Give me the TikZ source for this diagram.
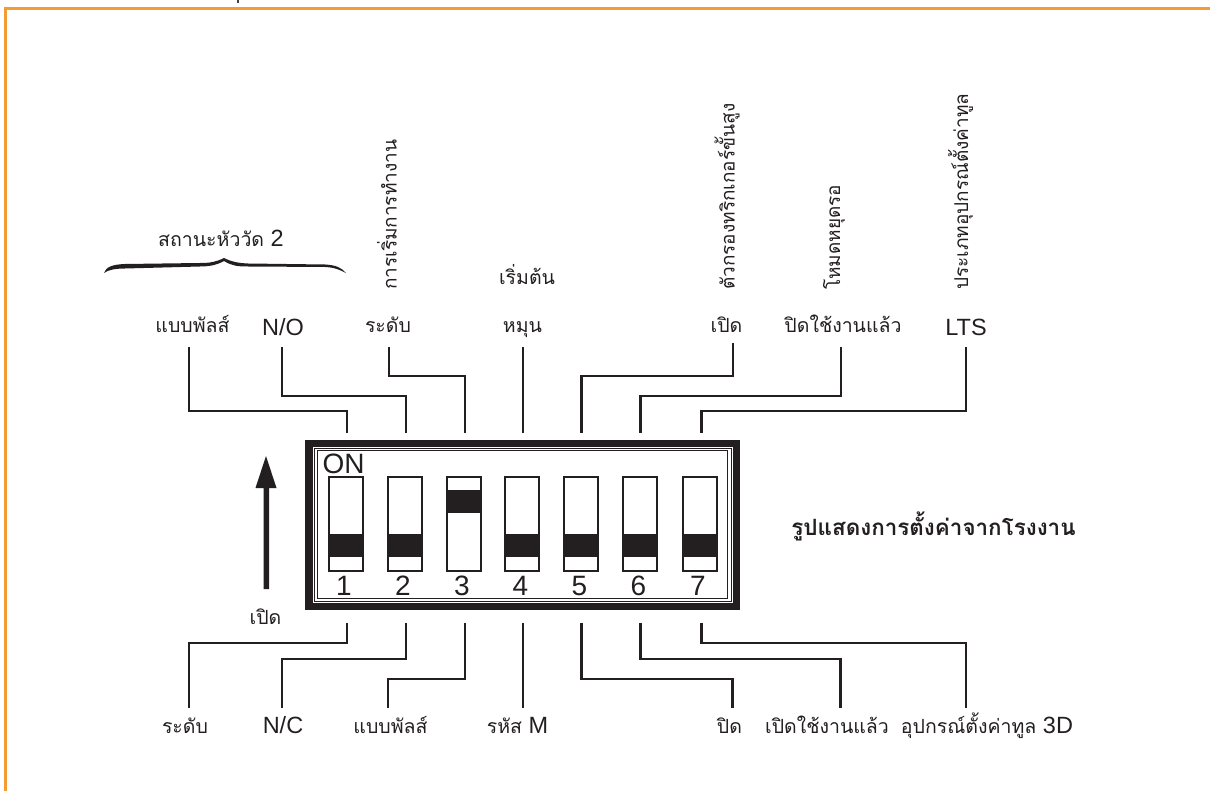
\documentclass[tikz,border=0pt]{standalone}
\usepackage{fontspec}
\setmainfont{Liberation Sans}
\newfontfamily\thaifont[Script=Thai]{Loma}
\newcommand{\latpart}[1]{{\fontspec{Liberation Sans}\fontsize{23.5}{26}\selectfont #1}}
\definecolor{ink}{HTML}{231F20}
\definecolor{frameor}{HTML}{F59B33}
\tikzset{
  wire/.style={draw=ink,line width=2.3pt},
  lab/.style={text=ink,font=\thaifont\fontsize{19.5}{22}\selectfont,inner sep=0pt,anchor=base},
  vlab/.style={text=ink,font=\thaifont\fontsize{19}{22}\selectfont,inner sep=0pt,rotate=90,anchor=base west},
  lat/.style={text=ink,font=\fontsize{23.5}{26}\selectfont,inner sep=0pt,anchor=base},
  slot/.style={draw=ink,line width=2pt,fill=white},
  num/.style={text=ink,font=\fontsize{28}{30}\selectfont,inner sep=0pt,anchor=base},
}
\begin{document}
\begin{tikzpicture}[x=1pt,y=-1pt]
\useasboundingbox (0,0) rectangle (1210,791);
\fill[white] (0,0) rectangle (1210,791);
\draw[frameor,line width=2.8pt] (5.5,791) -- (5.5,8.5) -- (1210,8.5);
\fill[ink!85] (236.5,0) rectangle (238.7,3);
% case
\fill[ink] (305,440) rectangle (740,609.5);
\fill[white] (312.5,446.5) rectangle (732.5,602.5);
\draw[ink,line width=1pt] (314,448) rectangle (731,601);
\draw[ink,line width=1pt] (317.5,450.5) rectangle (727.5,598);
\node[text=ink,font=\fontsize{28}{30}\selectfont,inner sep=0pt] (on) at (343.5,463.5) {ON};
% slots
\foreach \n/\x/\t in {1/328.5/534,2/387.5/534,3/446.5/490,4/505/534,5/564/534,6/623/534,7/682.5/534}{
  \draw[slot] (\x,477) rectangle (\x+34,570.5);
  \fill[ink] (\x-.5,\t) rectangle (\x+34.5,\t+22.7);
  \node[num] (n\n) at (\x+15.5,595) {\n};
}
% pin coordinates
\foreach \n/\x in {1/347.3,2/406.3,3/465.3,4/522.7,5/581.5,6/640.5,7/701.5}{
  \coordinate (t\n) at (\x,432.7);
  \coordinate (b\n) at (\x,622.7);
}
% top labels
\node[lab] (tl1) at (192.5,333) {แบบพัลส์};
\node[lat] (tl2) at (283,335.5) {N/O};
\node[lab] (tl3) at (388,333) {ระดับ};
\node[lab] (tl4) at (522.5,333) {หมุน};
\node[lab] (tl5) at (726.5,333) {เปิด};
\node[lab] (tl6) at (843,333) {ปิดใช้งานแล้ว};
\node[lat] (tl7) at (966,335.5) {LTS};
\draw[wire] (t1) -- (347.3,411) -- (189.3,411) -- (189.3,347);
\draw[wire] (t2) -- (406.3,396) -- (281.7,396) -- (281.7,347);
\draw[wire] (t3) -- (465.3,376) -- (389,376) -- (389,347);
\draw[wire] (t4) -- (522.7,347);
\draw[wire] (t5) -- (581.5,376) -- (732.7,376) -- (732.7,343);
\draw[wire] (t6) -- (640.5,396) -- (841,396) -- (841,347);
\draw[wire] (t7) -- (701.5,411) -- (965.7,411) -- (965.7,347);
% bottom labels
\node[lab] (bl1) at (185,733) {ระดับ};
\node[lat] (bl2) at (283,733.5) {N/C};
\node[lab] (bl3) at (390.5,733) {แบบพัลส์};
\node[lab] (bl4) at (517.5,733) {รหัส \latpart{M}};
\node[lab] (bl5) at (729.5,733) {ปิด};
\node[lab] (bl6) at (827,733) {เปิดใช้งานแล้ว};
\node[lab] (bl7) at (987,733) {อุปกรณ์ตั้งค่าทูล \latpart{3D}};
\draw[wire] (b1) -- (347.3,643) -- (189,643) -- (189,708);
\draw[wire] (b2) -- (406.3,659) -- (281.7,659) -- (281.7,708);
\draw[wire] (b3) -- (465.3,679) -- (388,679) -- (388,708);
\draw[wire] (b4) -- (522.7,708);
\draw[wire] (b5) -- (581.5,679) -- (732.5,679) -- (732.5,708);
\draw[wire] (b6) -- (640.5,659) -- (840.5,659) -- (840.5,708);
\draw[wire] (b7) -- (701.5,643) -- (966,643) -- (966,708);
% vertical labels
\node[vlab] (v1) at (396.5,290) {การเริ่มการทำงาน};
\node[lab] (v2) at (527,285) {เริ่มต้น};
\node[vlab] (v3) at (734.5,290) {ตัวกรองทริกเกอร์ขั้นสูง};
\node[vlab] (v4) at (840,290) {โหมดหยุดรอ};
\node[vlab] (v5) at (968,290) {ประเภทอุปกรณ์ตั้งค่าทูล};
% brace
\node[lab] (br) at (221,247) {สถานะหัววัด \latpart{2}};
\fill[ink] (104,273) .. controls (106,267) and (112,264.5) .. (125,264)
  -- (200,263) .. controls (210,263) and (216,262) .. (224,258)
  .. controls (232,262) and (238,263) .. (248,263.5) -- (325,264.5)
  .. controls (336,265) and (342,268) .. (346,273)
  .. controls (340,270) and (335,267.5) .. (325,267) -- (248,266.5)
  .. controls (238,266.5) and (232,266) .. (224,261)
  .. controls (216,265.5) and (208,266.5) .. (200,266.5) -- (125,268.5)
  .. controls (115,268.5) and (108,270) .. (104,273) -- cycle;
% arrow
\fill[ink] (266,456) -- (276.5,488) -- (269,488) -- (269,589) -- (263.5,589) -- (263.5,488) -- (255.5,488) -- cycle;
\node[lab] (open) at (265.5,624) {เปิด};
% caption
\node[lab,font=\thaifont\bfseries\fontsize{22.4}{24}\selectfont] (cap) at (933.5,535) {รูปแสดงการตั้งค่าจากโรงงาน};
\end{tikzpicture}
\end{document}
